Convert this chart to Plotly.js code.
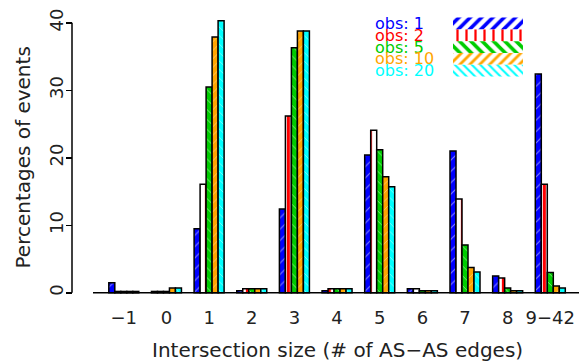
<!DOCTYPE html>
<html>
<head>
<meta charset="utf-8">
<script src="https://cdn.plot.ly/plotly-3.0.1.min.js"></script>
<style>html,body{margin:0;padding:0;background:#fff;}#chart{width:579px;height:361px;}</style>
</head>
<body>
<div id="chart"></div>
<script>
// ---- data ----
var categories = ["\u22121", "0", "1", "2", "3", "4", "5", "6", "7", "8", "9\u221242"];
var seriesNames = ["obs: 1", "obs: 2", "obs: 5", "obs: 10", "obs: 20"];
var obs1  = [1.5, 0.2, 9.5, 0.3, 12.4, 0.3, 20.4, 0.6, 21.0, 2.5, 32.4];
var obs2  = [0.2, 0.2, 16.1, 0.6, 26.2, 0.6, 24.1, 0.6, 13.9, 2.2, 16.1];
var obs5  = [0.2, 0.2, 30.5, 0.6, 36.3, 0.6, 21.2, 0.3, 7.1, 0.7, 3.0];
var obs10 = [0.2, 0.7, 37.9, 0.6, 38.8, 0.6, 17.2, 0.3, 3.75, 0.3, 1.0];
var obs20 = [0.2, 0.7, 40.3, 0.6, 38.8, 0.6, 15.7, 0.3, 3.1, 0.3, 0.7];
var yTicks = [0, 10, 20, 30, 40];
var xTitle = "Intersection size (# of AS\u2212AS edges)";
var yTitle = "Percentages of events";

// ---- styles ----
var colors = ["#0000FF", "#FF0000", "#00CC00", "#FFA500", "#00FFFF"];
var barPatterns = [
  {shape: "/", fgcolor: "white", size: 8, solidity: 0.14, fillmode: "overlay"},
  {shape: "|", fgcolor: "#FF0000", bgcolor: "white", size: 10.24, solidity: 0.3, fillmode: "replace"},
  {shape: "\\", fgcolor: "white", size: 7, solidity: 0.14, fillmode: "overlay"},
  {shape: "/", fgcolor: "white", size: 6, solidity: 0.12, fillmode: "overlay"},
  {shape: "\\", fgcolor: "white", size: 6, solidity: 0.14, fillmode: "overlay"}
];
var font = "DejaVu Sans, Verdana, sans-serif";
var allSeries = [obs1, obs2, obs5, obs10, obs20];

// geometry (pixels)
var W = 579, H = 361;
var L = 58, T = 10, B = 300;
var pxPerCat = 42.65, cat0Px = 123.8;
var y0Px = 292.8, pxPerUnit = 6.75;
var plotW = W - L, plotH = B - T;
var xr = [(L - cat0Px) / pxPerCat, (W - cat0Px) / pxPerCat];
var yr = [(y0Px - B) / pxPerUnit, (y0Px - T) / pxPerUnit];
var yAxisPos = (72 - L) / plotW;

var traces = [];
for (var i = 0; i < allSeries.length; i++) {
  traces.push({
    type: "bar", x: categories, y: allSeries[i], name: seriesNames[i],
    xaxis: "x", yaxis: "y", showlegend: false, hoverinfo: "skip",
    marker: {color: colors[i], pattern: barPatterns[i], line: {color: "black", width: 1.5}}
  });
}
// legend swatches (hatched blocks)
traces.push({
  type: "bar", orientation: "h", y: seriesNames, x: seriesNames.map(function(){return 1;}),
  xaxis: "x2", yaxis: "y2", width: 1, showlegend: false, hoverinfo: "skip",
  marker: {
    color: "white", line: {width: 0},
    pattern: {
      shape: ["/", "|", "\\", "/", "\\"], fgcolor: colors, bgcolor: "white",
      fillmode: "replace", size: [8, 9, 8, 7, 6], solidity: [0.45, 0.25, 0.45, 0.4, 0.35]
    }
  }
});

var annotations = [];
for (var j = 0; j < seriesNames.length; j++) {
  annotations.push({
    xref: "paper", yref: "y2", x: (373 - L) / plotW, y: j, xanchor: "left", yanchor: "middle",
    text: seriesNames[j], showarrow: false, font: {family: font, size: 16, color: colors[j]}
  });
}
annotations.push({xref: "paper", yref: "paper", x: (337.5 - L) / plotW, y: (B - 350) / plotH,
  xanchor: "center", yanchor: "middle", text: xTitle, showarrow: false,
  font: {family: font, size: 20, color: "#222"}});
annotations.push({xref: "paper", yref: "paper", x: (22 - L) / plotW, y: (B - 157.5) / plotH,
  xanchor: "center", yanchor: "middle", textangle: -90, text: yTitle, showarrow: false,
  font: {family: font, size: 20, color: "#222"}});

var layout = {
  width: W, height: H,
  margin: {l: L, r: 0, t: T, b: H - B, pad: 0},
  paper_bgcolor: "white", plot_bgcolor: "white",
  barmode: "group", bargap: 0.2966, bargroupgap: 0,
  showlegend: false,
  xaxis: {
    type: "category", range: xr, showgrid: false, zeroline: false, showline: false,
    ticks: "", ticklabelstandoff: 5, tickfont: {family: font, size: 18, color: "#222"}, fixedrange: true
  },
  yaxis: {
    range: yr, anchor: "free", position: yAxisPos, showgrid: false, zeroline: false, showline: false,
    tickmode: "array", tickvals: yTicks, ticktext: yTicks.map(String),
    ticks: "outside", ticklen: 6, tickwidth: 1.5, tickcolor: "black", tickangle: -90,
    ticklabelstandoff: -4,
    tickfont: {family: font, size: 18, color: "#222"}, fixedrange: true
  },
  xaxis2: {domain: [(453 - L) / plotW, (523 - L) / plotW], anchor: "y2", range: [0, 1], visible: false},
  yaxis2: {domain: [(B - 82) / plotH, (B - 12) / plotH], anchor: "x2", type: "category",
           autorange: "reversed", visible: false},
  shapes: [
    {type: "line", xref: "paper", yref: "y", x0: (93 - L) / plotW, x1: 1, y0: 0, y1: 0,
     line: {color: "black", width: 1.5}},
    {type: "line", xref: "paper", yref: "y", x0: yAxisPos, x1: yAxisPos, y0: yTicks[0], y1: yTicks[yTicks.length - 1],
     line: {color: "black", width: 1.5}}
  ],
  annotations: annotations
};

Plotly.newPlot("chart", traces, layout, {staticPlot: true, displayModeBar: false});
</script>
</body>
</html>
